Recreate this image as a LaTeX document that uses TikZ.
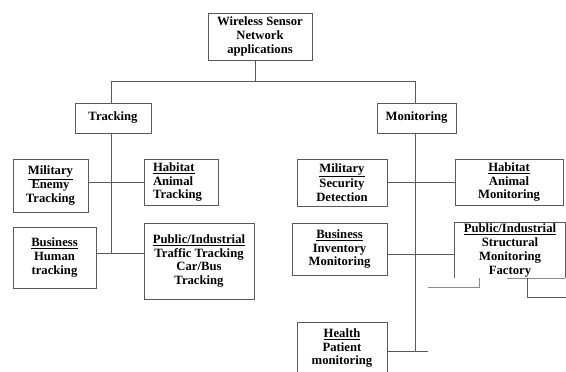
\documentclass[tikz,border=0pt]{standalone}
\usepackage{fontspec}
\setmainfont{Liberation Serif}

\begin{document}
\begin{tikzpicture}[x=0.75pt,y=0.75pt,yscale=-1,xscale=1,
  box/.style={draw=black!65, line width=0.6pt, inner sep=0pt, align=center,
    font=\fontsize{9.5}{10.4}\selectfont\bfseries},
  link/.style={draw=black!65, line width=0.6pt},
  ghost/.style={draw=black!45, line width=0.6pt}]
\clip (0,0) rectangle (566,371);

% Top of the tree
\node [box, minimum width=78pt, minimum height=35.25pt] (root) at (260,36.5) {Wireless Sensor\\Network\\applications};
\node [box, minimum width=57pt, minimum height=22.5pt] (track) at (113,118) {Tracking};
\node [box, minimum width=59.25pt, minimum height=22.5pt] (monit) at (416.5,118) {Monitoring};

% Tracking branch
\node [box, minimum width=56.25pt, minimum height=39.75pt] (milT) at (50.5,185.5) {\underline{Military}\\Enemy\\Tracking};
\node [box, align=left, text width=42pt, minimum width=55.5pt, minimum height=34.5pt] (habT) at (181,182) {\underline{Habitat}\\Animal\\Tracking};
\node [box, minimum width=62.25pt, minimum height=45.75pt] (busT) at (54.5,257.5) {\underline{Business}\\Human\\tracking};
\node [box, minimum width=82.5pt, minimum height=57pt] (pubT) at (199,261) {\underline{Public/Industrial}\\Traffic Tracking\\Car/Bus\\Tracking};

% Monitoring branch
\node [box, minimum width=67.5pt, minimum height=35.25pt] (milM) at (342,182.5) {\underline{Military}\\Security\\Detection};
\node [box, minimum width=81pt, minimum height=34.5pt] (habM) at (509,182) {\underline{Habitat}\\Animal\\Monitoring};
\node [box, minimum width=71.25pt, minimum height=39pt] (busM) at (339.5,249) {\underline{Business}\\Inventory\\Monitoring};
\node [box, draw=none, minimum width=82.5pt, minimum height=41.25pt] (pubM) at (510,250.5) {\underline{Public/Industrial}\\Structural\\Monitoring\\Factory};
\node [box, minimum width=67.5pt, minimum height=39pt] (health) at (342,348) {\underline{Health}\\Patient\\monitoring};

% Rails
\coordinate (hub) at (255,81);
\coordinate (tr) at (111,253);
\coordinate (mr) at (415,351);
\coordinate (mb) at (415,254);
\coordinate (me) at (428,351);

\draw [link] (root.south -| hub) -- (hub);
\draw [link] (track.north -| tr) -- (tr |- hub) -- (mr |- hub) -- (monit.north -| mr);
\draw [link] (track.south -| tr) -- (tr);
\draw [link] (milT.east |- habT.west) -- (habT.west);
\draw [link] (busT.east |- tr) -- (pubT.west |- tr);
\draw [link] (monit.south -| mr) -- (mr);
\draw [link] (milM.east |- habM.west) -- (habM.west);
\draw [link] (busM.east |- mb) -- (pubM.west |- mb);
\draw [link] (health.east |- me) -- (me);

% Broken outline of the last box
\draw [link] (pubM.south west) -- (pubM.north west) -- (pubM.north east) -- (pubM.south east);
\draw [ghost] (pubM.south east) -- ++(-58,0);
\draw [ghost] (428,287) -- (479,287) -- (479,278);
\draw [link] (527,278) -- (527,297) -- (566,297);
\end{tikzpicture}
\end{document}
